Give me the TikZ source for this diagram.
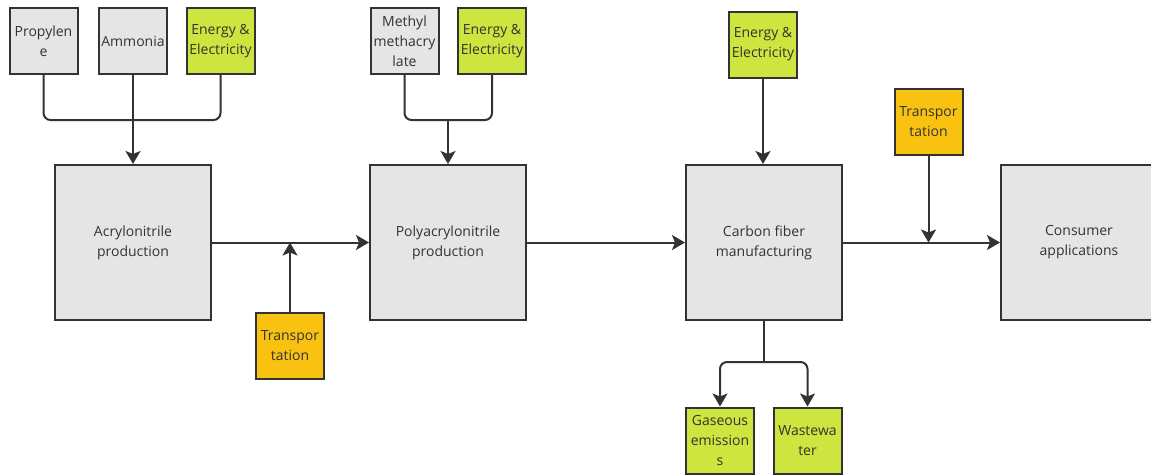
\documentclass[tikz,border=0pt]{standalone}
\usepackage{fontspec}
\setmainfont{Open Sans}
\usepackage{tikz}
\usetikzlibrary{positioning, calc, arrows.meta}
\definecolor{Lineacol}{RGB}{51,51,51}
\definecolor{Grisbox}{RGB}{229,229,229}
\definecolor{Verdebox}{RGB}{205,229,62}
\definecolor{Amarbox}{RGB}{250,194,16}

\begin{document}
\begin{tikzpicture}[
  x=1pt, y=-1pt,
  proceso/.style={
    rectangle, draw=Lineacol, line width=2pt,
    fill=Grisbox, text=Lineacol,
    font=\fontsize{14}{20}\selectfont,
    align=center, inner sep=0pt,
    minimum width=156pt, minimum height=155pt
  },
  entrada/.style={
    rectangle, draw=Lineacol, line width=2pt,
    fill=#1, text=Lineacol,
    font=\fontsize{14}{20}\selectfont,
    align=center, inner sep=0pt,
    minimum width=68pt, minimum height=66pt
  },
  linea/.style={
    line width=2pt, color=Lineacol, rounded corners=7pt
  },
  flecha/.style={
    linea, -{Stealth[length=13pt, width=15pt, inset=3pt]}
  }
]
\useasboundingbox (0,0) rectangle (1151,474);

\node[proceso] (acr)  at (133,242.5)  {Acrylonitrile\\production};
\node[proceso] (pan)  at (448,242.5)  {Polyacrylonitrile\\production};
\node[proceso] (cf)   at (764,242.5)  {Carbon fiber\\manufacturing};
\node[proceso] (cons) at (1079,242.5) {Consumer\\applications};

\node[entrada=Grisbox]  (prop) at (43.5,41)  {Propylen\\e};
\node[entrada=Grisbox]  (amm)  at (133,41)   {Ammonia};
\node[entrada=Verdebox] (ene1) at (220.5,41) {Energy \&\\Electricity};
\node[entrada=Grisbox]  (mma)  at (404.5,41) {Methyl\\methacry\\late};
\node[entrada=Verdebox] (ene2) at (492,41)   {Energy \&\\Electricity};
\node[entrada=Verdebox] (ene3) at (763,44.5) {Energy \&\\Electricity};
\node[entrada=Amarbox]  (tra1) at (290,346)  {Transpor\\tation};
\node[entrada=Amarbox]  (tra2) at (928.5,122) {Transpor\\tation};
\node[entrada=Verdebox] (gas)  at (720,440.5) {Gaseous\\emission\\s};
\node[entrada=Verdebox] (wat)  at (807.5,440.5) {Wastewa\\ter};

\coordinate (j1) at (133,120);
\coordinate (j2) at (448,120);
\coordinate (j3) at (764,362);

\draw[linea]  (prop.south) |- (j1);
\draw[linea]  (ene1.south) |- (j1);
\draw[flecha] (amm.south) -- (acr.north);
\draw[linea]  (mma.south) |- (j2);
\draw[linea]  (ene2.south) |- (j2);
\draw[flecha] (j2) -- (pan.north);
\draw[flecha] (ene3.south) -- (ene3.south |- cf.north);

\draw[flecha] (acr.east) -- (pan.west);
\draw[flecha] (pan.east) -- (cf.west);
\draw[flecha] (cf.east) -- (cons.west);
\draw[flecha] (tra1.north) -- (tra1.north |- acr.east);
\draw[flecha] (tra2.south) -- (tra2.south |- cf.east);

\draw[linea]  (cf.south) -- (j3);
\draw[flecha] (j3) -| (gas.north);
\draw[flecha] (j3) -| (wat.north);
\end{tikzpicture}
\end{document}
